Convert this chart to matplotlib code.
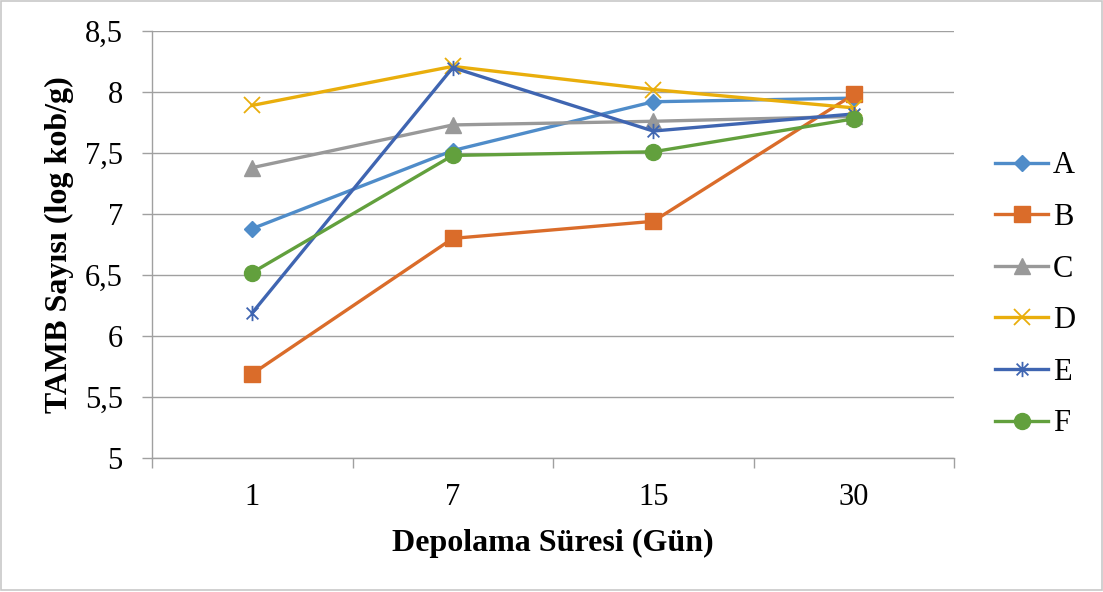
import matplotlib.pyplot as plt
from matplotlib.path import Path
from matplotlib.patches import Rectangle

plt.rcParams['font.family'] = ['Liberation Serif', 'DejaVu Serif']

days = ["1", "7", "15", "30"]
seriesA = [6.88, 7.52, 7.92, 7.95]
seriesB = [5.69, 6.80, 6.94, 7.98]
seriesC = [7.38, 7.73, 7.76, 7.80]
seriesD = [7.89, 8.21, 8.02, 7.87]
seriesE = [6.19, 8.20, 7.68, 7.82]
seriesF = [6.52, 7.48, 7.51, 7.78]
yTicks = [5, 5.5, 6, 6.5, 7, 7.5, 8, 8.5]

# excel style asterisk marker
starPath = Path([(-1, -1), (1, 1), (-1, 1), (1, -1), (0, -1.3), (0, 1.3)],
                [Path.MOVETO, Path.LINETO, Path.MOVETO, Path.LINETO, Path.MOVETO, Path.LINETO])

W, H = 1103, 592
fig = plt.figure(figsize=(W / 100, H / 100), dpi=100)
ax = fig.add_axes([152 / W, 1 - 458 / H, 802 / W, 427 / H])

x = list(range(len(days)))
lw = 2.4
ax.plot(x, seriesA, color="#4F8CC9", lw=lw, marker="D", ms=8.5, label="A", zorder=3)
ax.plot(x, seriesB, color="#DA6C2A", lw=lw, marker="s", ms=11, label="B", zorder=3)
ax.plot(x, seriesC, color="#999999", lw=lw, marker="^", ms=11, label="C", zorder=3)
ax.plot(x, seriesD, color="#E9AE0C", lw=lw, marker="x", ms=11, mew=1.3, label="D", zorder=3)
ax.plot(x, seriesE, color="#3F65B1", lw=lw, marker=starPath, ms=11, mew=1.3,
        mfc="none", label="E", zorder=3)
ax.plot(x, seriesF, color="#62A03D", lw=lw, marker="o", ms=11.5, label="F", zorder=3)

ax.set_xlim(-0.5, len(days) - 0.5)
ax.set_ylim(5, 8.5)
ax.set_yticks(yTicks)
ax.set_yticklabels([str(v).replace(".", ",") if v % 1 else str(int(v)) for v in yTicks])
ax.set_xticks(x)
ax.set_xticklabels(days)
ax.set_xticks([i - 0.5 for i in range(len(days) + 1)], minor=True)
ax.tick_params(axis="x", which="major", length=0, pad=18, labelsize=22)
ax.tick_params(axis="x", which="minor", length=7, color="#A0A0A0", width=1)
ax.tick_params(axis="y", length=7, color="#A0A0A0", width=1, pad=14, labelsize=22)

ax.grid(axis="y", color="#A0A0A0", lw=1)
ax.set_axisbelow(True)
for s in ["top", "right"]:
    ax.spines[s].set_visible(False)
for s in ["left", "bottom"]:
    ax.spines[s].set_color("#A0A0A0")
    ax.spines[s].set_linewidth(1)

ax.set_xlabel("Depolama Süresi (Gün)", fontsize=23, fontweight="bold", labelpad=12)
ax.set_ylabel("TAMB Sayısı (log kob/g)", fontsize=23, fontweight="bold", labelpad=8)

ax.legend(loc="center left", bbox_to_anchor=(1.036, 0.382), frameon=False, fontsize=22,
          handlelength=1.73, handletextpad=0.16, labelspacing=0.74, borderaxespad=0)

fig.patches.append(Rectangle((0.001, 0.003), 0.998, 0.995, transform=fig.transFigure,
                             fill=False, edgecolor="#C8C8C8", lw=1.2))

fig.savefig("out.png", dpi=100)
